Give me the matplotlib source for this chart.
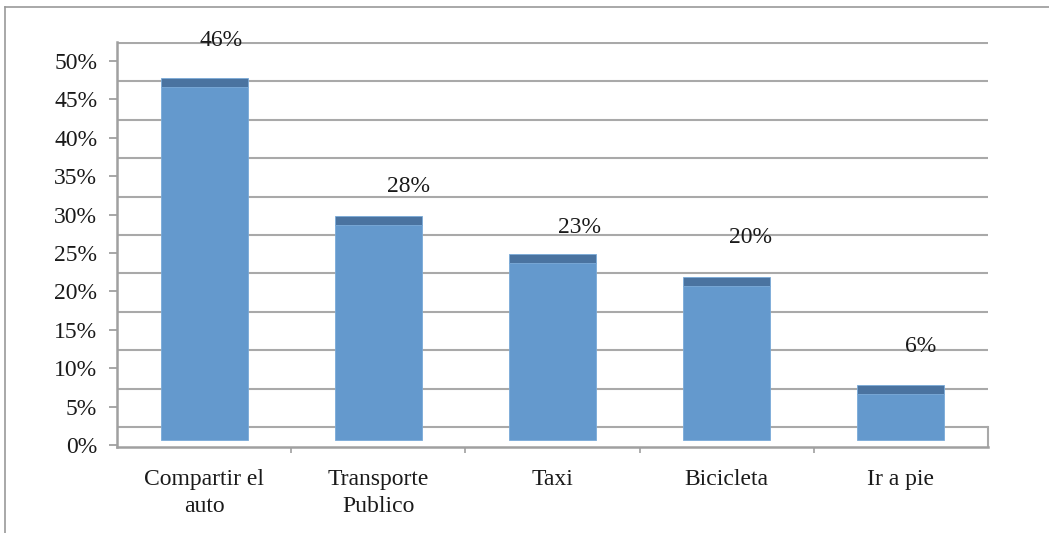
import matplotlib
matplotlib.use("Agg")
import matplotlib.pyplot as plt
from matplotlib.lines import Line2D

# Share of respondents by mode of transport
categories = ["Compartir el\nauto", "Transporte\nPublico", "Taxi", "Bicicleta", "Ir a pie"]
values = [46, 28, 23, 20, 6]
value_labels = ["46%", "28%", "23%", "20%", "6%"]
tick_values = [0, 5, 10, 15, 20, 25, 30, 35, 40, 45, 50]
tick_labels = ["0%", "5%", "10%", "15%", "20%", "25%", "30%", "35%", "40%", "45%", "50%"]

W, H = 1049, 533
fig = plt.figure(figsize=(W / 100, H / 100), dpi=100)
plt.rcParams["font.family"] = ["Liberation Serif", "DejaVu Serif"]

GRID = "#a9a9a9"
AXIS = "#a0a0a0"
BAR = "#6499cd"
CAP = "#4a73a0"
TEXT = "#1a1a1a"
FS = 17

# plot area in pixels (left, top, right, bottom)
L, T, R, B = 117, 42, 988, 447
ax = fig.add_axes([L / W, (H - B) / H, (R - L) / W, (B - T) / H])

px_per_unit = 7.68          # pixels per percentage point
zero_px = 445               # pixel row of the 0% tick
ax.set_ylim((zero_px - B) / px_per_unit, (zero_px - T) / px_per_unit)
ax.set_xlim(-0.5, len(categories) - 0.5)

# pseudo-3D depth offsets (in percentage units)
bar_base = (zero_px - 440) / px_per_unit
wall_shift = (zero_px - 427) / px_per_unit
cap_depth = 9 / px_per_unit

# back-wall gridlines
for v in tick_values:
    ax.axhline(v + wall_shift, color=GRID, lw=1.5, zorder=1)

# right edge of the floor
ax.plot([len(categories) - 0.5] * 2, [ax.get_ylim()[0], wall_shift],
        color=GRID, lw=1.5, zorder=1, clip_on=False)

x = list(range(len(categories)))
ax.bar(x, values, bottom=bar_base, width=0.5, color=BAR,
       edgecolor="#7aaad8", linewidth=0.6, zorder=3)
ax.bar(x, [cap_depth] * len(values), bottom=[v + bar_base for v in values],
       width=0.5, color=CAP, edgecolor="#7aaad8", linewidth=0.6, zorder=3)

# value labels (nudged to sit above each column's back edge)
label_nudge = [(17, 46), (30, 38), (27, 36), (24, 49), (20, 47)]
for xi, v, lab, (dx, dy) in zip(x, values, value_labels, label_nudge):
    ax.annotate(lab, (xi, v + bar_base), xytext=(dx * 0.72, dy * 0.72),
                textcoords="offset points", ha="center", va="center",
                fontsize=FS, color=TEXT, zorder=5, annotation_clip=False)

for side in ("top", "right"):
    ax.spines[side].set_visible(False)
for side in ("left", "bottom"):
    ax.spines[side].set_color(AXIS)
    ax.spines[side].set_linewidth(1.8)

ax.set_yticks(tick_values)
ax.set_yticklabels(tick_labels, fontsize=FS, color=TEXT)
ax.tick_params(axis="y", length=5.8, width=1.3, color=AXIS, pad=8.5)

ax.set_xticks([i + 0.5 for i in range(len(categories) - 1)])
ax.set_xticklabels([])
ax.tick_params(axis="x", which="major", length=4, width=1.2, color=AXIS)
ax.set_xticks(x, minor=True)
ax.set_xticklabels(categories, minor=True, fontsize=FS, color=TEXT,
                   linespacing=1.35)
ax.tick_params(axis="x", which="minor", length=0, pad=16)

# outer chart frame (top and left edges)
fig.add_artist(Line2D([5 / W, 1], [1 - 7 / H, 1 - 7 / H], color="#9a9a9a",
                      lw=1.2, transform=fig.transFigure))
fig.add_artist(Line2D([5 / W, 5 / W], [0, 1 - 7 / H], color="#9a9a9a",
                      lw=1.2, transform=fig.transFigure))

fig.savefig("out.png", dpi=100, facecolor="white")
